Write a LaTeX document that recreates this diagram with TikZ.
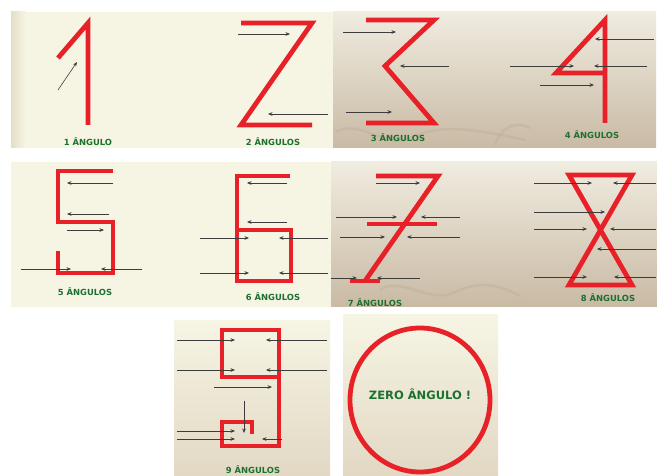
\documentclass[tikz,border=0pt]{standalone}
\usepackage{fontspec}
\usetikzlibrary{arrows.meta}
\newfontfamily\lblfont{DejaVu Sans}
\definecolor{cream}{RGB}{246,245,228}
\definecolor{creamshade}{RGB}{228,222,200}
\definecolor{tanTop}{RGB}{240,236,224}
\definecolor{tanBot}{RGB}{201,186,164}
\definecolor{lighttan}{RGB}{226,216,196}
\definecolor{redd}{RGB}{232,32,40}
\definecolor{lblgreen}{RGB}{28,112,48}
\definecolor{arrgray}{RGB}{60,60,60}
\definecolor{wave}{RGB}{190,175,155}
\begin{document}
\begin{tikzpicture}[x=1pt,y=-1pt,
  redline/.style={draw=redd, line width=4.8pt, line join=miter, line cap=butt},
  arr/.style={draw=arrgray, line width=0.6pt, -{Stealth[length=4.5pt,width=3.6pt]}},
  lbl/.style={text=lblgreen, font=\lblfont\bfseries\fontsize{8.4}{10}\selectfont, inner sep=0pt},
  wavy/.style={draw=wave, line width=2.5pt, opacity=0.45}]
\useasboundingbox (0,0) rectangle (657,476);
\fill[white] (0,0) rectangle (657,476);
% ---------- panels ----------
\fill[cream] (11,12) rectangle (333,148);
\shade[left color=creamshade, right color=cream] (11,12) rectangle (26,148);
\shade[top color=tanTop, bottom color=tanBot] (333,12) rectangle (656,148);
\fill[cream] (11,162) rectangle (331,307);
\shade[top color=tanTop, bottom color=tanBot] (331,162) rectangle (657,307);
\shade[top color=cream, bottom color=lighttan] (174,321) rectangle (330,476);
\shade[top color=cream, bottom color=lighttan] (343,315) rectangle (498,476);
% faint waves
\draw[wavy] (336,132) .. controls (360,118) and (385,150) .. (410,138) .. controls (440,124) and (470,128) .. (525,140);
\draw[wavy] (495,145) .. controls (500,128) and (515,120) .. (530,128);
\draw[wavy] (380,290) .. controls (400,275) and (430,305) .. (455,292) .. controls (480,280) and (500,285) .. (520,296);
% ---------- 1 ----------
\draw[redline] (58,58) -- (88,23) -- (88,125);
\draw[arr] (58,90) -- (77,62);
\node[lbl] (l1) at (88,142) {1 ÂNGULO};
% ---------- 2 ----------
\draw[redline] (241,23) -- (312,23) -- (241,125) -- (312,125);
\draw[arr] (238,34) -- (290,34);
\draw[arr] (328,114) -- (268,114);
\node[lbl] (l2) at (273,142) {2 ÂNGULOS};
% ---------- 3 ----------
\draw[redline] (366,20) -- (434,20) -- (385,66) -- (434,123) -- (366,123);
\draw[arr] (343,32) -- (396,32);
\draw[arr] (449,66) -- (400,66);
\draw[arr] (346,112) -- (392,112);
\node[lbl] (l3) at (398,138) {3 ÂNGULOS};
% ---------- 4 ----------
\draw[redline] (605,73) -- (556,73) -- (605,20) -- (605,123);
\draw[arr] (654,39) -- (595,39);
\draw[arr] (510,66) -- (574,66);
\draw[arr] (647,66) -- (594,66);
\draw[arr] (540,85) -- (594,85);
\node[lbl] (l4) at (592,135) {4 ÂNGULOS};
% ---------- 5 ----------
\draw[redline] (113,171) -- (58,171) -- (58,222) -- (113,222) -- (113,273) -- (58,273) -- (58,251);
\draw[arr] (113,183) -- (67,183);
\draw[arr] (109,214) -- (67,214);
\draw[arr] (67,230) -- (104,230);
\draw[arr] (21,269) -- (71,269);
\draw[arr] (142,269) -- (101,269);
\node[lbl] (l5) at (85,292) {5 ÂNGULOS};
% ---------- 6 ----------
\draw[redline] (290,176) -- (237,176) -- (237,281) -- (291,281) -- (291,230) -- (237,230);
\draw[arr] (287,183) -- (247,183);
\draw[arr] (287,222) -- (247,222);
\draw[arr] (200,238) -- (249,238);
\draw[arr] (328,238) -- (279,238);
\draw[arr] (200,273) -- (249,273);
\draw[arr] (328,273) -- (279,273);
\node[lbl] (l6) at (273,297) {6 ÂNGULOS};
% ---------- 7 ----------
\draw[redline] (376,176) -- (438,176) -- (365,281);
\draw[redline] (367,224) -- (437,224);
\draw[redline] (350,281) -- (380,281);
\draw[arr] (376,183) -- (420,183);
\draw[arr] (336,217) -- (397,217);
\draw[arr] (460,217) -- (421,217);
\draw[arr] (340,237) -- (385,237);
\draw[arr] (460,237) -- (407,237);
\draw[arr] (331,278) -- (357,278);
\draw[arr] (420,278) -- (377,278);
\begin{scope}
\clip (331,162) rectangle (657,307);
\node[lbl] (l7) at (375,303) {7 ÂNGULOS};
\end{scope}
% ---------- 8 ----------
\draw[redline] (569,175) -- (632,175) -- (569,285) -- (632,285) -- cycle;
\draw[arr] (534,183) -- (592,183);
\draw[arr] (656,183) -- (613,183);
\draw[arr] (534,212) -- (605,212);
\draw[arr] (534,229) -- (587,229);
\draw[arr] (656,229) -- (610,229);
\draw[arr] (656,249) -- (597,249);
\draw[arr] (534,277) -- (587,277);
\draw[arr] (656,277) -- (614,277);
\node[lbl] (l8) at (608,298) {8 ÂNGULOS};
% ---------- 9 ----------
\draw[redline] (279,377) -- (222,377) -- (222,330) -- (279,330) -- (279,446) -- (222,446) -- (222,422) -- (252,422) -- (252,434);
\draw[arr] (177,340) -- (235,340);
\draw[arr] (327,340) -- (266,340);
\draw[arr] (177,370) -- (235,370);
\draw[arr] (327,370) -- (266,370);
\draw[arr] (214,387) -- (272,387);
\draw[arr] (244,401) -- (244,433);
\draw[arr] (177,431) -- (235,431);
\draw[arr] (177,439) -- (235,439);
\draw[arr] (282,439) -- (262,439);
\node[lbl] (l9) at (253,470) {9 ÂNGULOS};
% ---------- 0 ----------
\draw[draw=redd, line width=4.8pt] (420,400) ellipse [x radius=70, y radius=72];
\node[lbl, font=\lblfont\bfseries\fontsize{11.5}{13}\selectfont] (l0) at (420,394) {ZERO ÂNGULO !};
\end{tikzpicture}
\end{document}
